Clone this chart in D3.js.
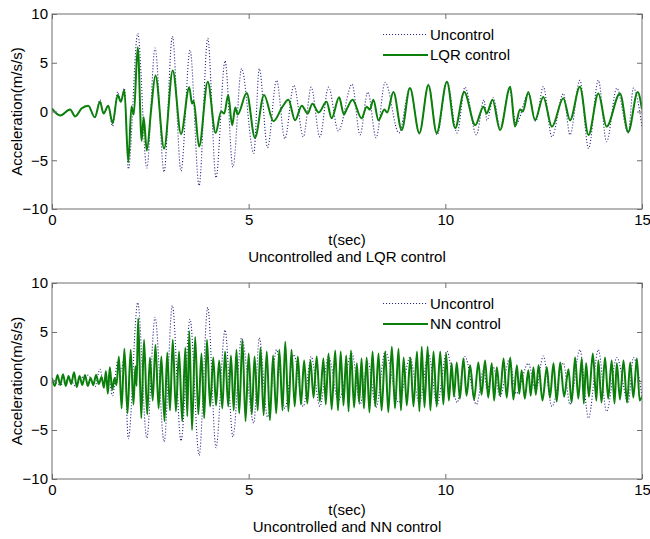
<!DOCTYPE html>
<html>
<head>
  <meta charset="UTF-8">
  <title>Acceleration response</title>
  <script src="https://d3js.org/d3.v7.min.js"></script>
  <style>
    body {
      margin: 0;
      background: #fff;
      font-family: "Liberation Sans", Arial, sans-serif;
    }
    svg text {
      font-size: 15px;
      fill: #000;
    }
    .box {
      fill: none;
      stroke: #6e6e6e;
      stroke-width: 1;
    }
    .tick line {
      stroke: #6e6e6e;
    }
    .uncontrol {
      fill: none;
      stroke: #2b2b85;
      stroke-width: 1.1;
      stroke-dasharray: 1.1, 1.9;
    }
    .control {
      fill: none;
      stroke: #0a800a;
      stroke-width: 2;
      stroke-linejoin: round;
    }
  </style>
</head>
<body>
  <div id="chart"></div>
  <script>
    // peaks / troughs, [time (s), acceleration (m/s/s)]
    const uncontrol = [
      [0, 0.3], [0.21, -0.4], [0.46, 0.2], [0.59, -0.5], [0.75, 0.3], [0.92, 0.6], [1.09, -0.6],
      [1.22, 1.2], [1.31, -0.2], [1.43, 0.6], [1.54, -1.5], [1.67, 2.0], [1.75, 1.0], [1.84, 2.4],
      [1.94, -5.9], [2.18, 8.0], [2.41, -5.8], [2.62, 6.5], [2.85, -6.2], [3.06, 7.7], [3.28, -6.1],
      [3.51, 6.3], [3.74, -7.6], [3.96, 7.5], [4.17, -6.8], [4.40, 5.2], [4.60, -5.7], [4.82, 4.4],
      [5.13, -4.3], [5.27, 4.4], [5.48, -3.7], [5.71, 3.2], [5.92, -2.8], [6.15, 2.7], [6.39, -2.6],
      [6.59, 2.5], [6.81, -2.6], [7.03, 2.5], [7.28, -2.0], [7.63, 2.8], [7.83, -2.4], [8.03, 2.0],
      [8.24, -2.7], [8.47, 3.0], [8.82, -2.2], [9.10, 2.4], [9.34, -2.3], [9.57, 2.8], [9.79, -2.4],
      [10.04, 3.05], [10.30, -2.2], [10.50, 2.5], [10.79, -2.4], [10.98, 1.2], [11.06, -0.9],
      [11.22, 1.4], [11.39, -1.6], [11.63, 2.2], [11.80, -1.3], [12.11, 1.8], [12.30, -1.0],
      [12.49, 2.55], [12.71, -2.6], [13.00, 1.85], [13.17, -2.4], [13.42, 3.2], [13.64, -3.8],
      [13.89, 3.2], [14.10, -3.1], [14.36, 2.4], [14.65, -2.2], [14.78, 2.4], [15.00, -1.55]
    ];

    const lqrControl = [
      [0, 0.3], [0.21, -0.4], [0.46, 0.2], [0.59, -0.5], [0.75, 0.3], [0.92, 0.6], [1.09, -0.6],
      [1.22, 1.0], [1.31, -0.2], [1.43, 0.6], [1.54, -1.2], [1.67, 1.7], [1.75, 1.0], [1.84, 2.2],
      [1.94, -5.2], [2.02, 0.5], [2.08, -0.3], [2.18, 6.6], [2.28, -3.0], [2.33, -0.6], [2.41, -4.0],
      [2.52, 0.2], [2.63, 3.7], [2.85, -3.8], [3.07, 4.2], [3.28, -2.3], [3.49, 2.5], [3.56, 0.8],
      [3.60, 1.1], [3.74, -3.6], [3.96, 3.05], [4.16, -2.2], [4.30, 0.0], [4.38, -0.2], [4.48, 1.7],
      [4.58, -1.4], [4.66, 0.4], [4.72, -0.3], [4.95, 1.9], [5.16, -2.7], [5.39, 1.7], [5.63, -1.0],
      [5.86, 0.5], [6.01, 1.2], [6.18, -0.9], [6.35, 0.6], [6.50, -0.2], [6.62, 0.8], [6.78, -0.1],
      [6.98, 1.0], [7.11, -0.7], [7.30, 1.45], [7.42, -0.3], [7.50, 0.3], [7.64, 1.2], [7.87, -0.7],
      [8.00, 0.5], [8.08, 0.2], [8.17, 1.2], [8.30, -0.9], [8.45, 0.2], [8.52, -0.1], [8.68, 2.0],
      [8.89, -1.9], [9.10, 2.4], [9.34, -2.2], [9.57, 2.7], [9.78, -2.2], [10.04, 3.05], [10.25, -1.7],
      [10.48, 2.0], [10.76, -1.4], [10.97, 0.5], [11.05, -0.2], [11.20, 1.2], [11.39, -1.9],
      [11.65, 2.55], [11.77, -1.55], [11.90, 0.2], [11.97, 0.0], [12.11, 2.0], [12.28, -0.9],
      [12.49, 1.5], [12.71, -1.55], [13.00, 1.35], [13.17, -0.9], [13.42, 2.55], [13.64, -2.4],
      [13.89, 1.85], [14.10, -1.55], [14.44, 1.85], [14.65, -2.1], [14.89, 2.0], [15.00, 0.2]
    ];

    const nnControl = [
      [0, 0.3], [0.07, -0.5], [0.14, 0.6], [0.21, -0.4], [0.28, 0.7], [0.35, -0.5], [0.42, 0.5],
      [0.49, -0.3], [0.56, 0.9], [0.63, -0.6], [0.70, 0.5], [0.77, -0.4], [0.84, 0.6], [0.91, -0.5],
      [0.98, 0.3], [1.05, -0.4], [1.12, 0.6], [1.19, -0.3], [1.26, 0.4], [1.32, -0.7], [1.37, 1.0],
      [1.42, -1.3], [1.47, 1.4], [1.53, -0.9], [1.59, 0.3], [1.64, -0.4], [1.70, 2.5], [1.77, -2.8],
      [1.84, 3.3], [1.92, -3.3], [2.00, 3.2], [2.07, -2.4], [2.12, 1.5], [2.15, -0.5], [2.19, 6.4],
      [2.27, -3.8], [2.34, 4.2], [2.42, -3.4], [2.49, 2.4], [2.56, -2.0], [2.63, 3.7], [2.71, -2.8],
      [2.78, 2.5], [2.86, -4.1], [2.93, 2.9], [3.00, -3.0], [3.07, 4.2], [3.15, -3.1], [3.23, 3.0],
      [3.31, -4.1], [3.39, 3.4], [3.44, -3.6], [3.49, 5.1], [3.56, -5.0], [3.64, 4.5], [3.72, -3.4],
      [3.80, 2.8], [3.87, -3.8], [3.94, 4.2], [4.02, -2.6], [4.10, 2.4], [4.17, -2.5], [4.25, 2.1],
      [4.33, -2.8], [4.40, 3.0], [4.48, -2.6], [4.55, 2.6], [4.62, -3.0], [4.69, 3.2], [4.76, -3.3],
      [4.84, 4.2], [4.92, -4.1], [5.00, 2.8], [5.08, -3.4], [5.15, 2.5], [5.23, -3.0], [5.30, 3.4],
      [5.38, -3.5], [5.46, 3.0], [5.54, -4.0], [5.62, 2.6], [5.70, -3.3], [5.78, 3.2], [5.86, -3.0],
      [5.93, 4.0], [6.01, -3.1], [6.09, 3.2], [6.17, -2.6], [6.25, 2.5], [6.33, -2.4], [6.41, 2.1],
      [6.49, -2.3], [6.57, 2.1], [6.65, -1.7], [6.73, 2.5], [6.81, -2.1], [6.90, 2.3], [6.96, -2.4],
      [7.03, 2.8], [7.11, -2.9], [7.20, 3.1], [7.27, -3.0], [7.34, 3.0], [7.41, -2.5], [7.48, 2.6],
      [7.54, -3.1], [7.60, 3.1], [7.68, -2.7], [7.75, 1.8], [7.81, -2.2], [7.87, 2.3], [7.93, -2.8],
      [8.00, 2.4], [8.07, -3.2], [8.15, 3.0], [8.22, -2.6], [8.30, 2.8], [8.38, -3.0], [8.47, 3.0],
      [8.55, -3.2], [8.64, 3.5], [8.72, -2.8], [8.81, 3.3], [8.87, -3.0], [8.94, 2.4], [9.02, -2.5],
      [9.11, 2.4], [9.19, -2.6], [9.28, 3.0], [9.34, -3.1], [9.40, 3.5], [9.47, -2.7], [9.55, 3.5],
      [9.62, -3.0], [9.70, 3.0], [9.78, -2.6], [9.87, 3.0], [9.95, -2.4], [10.02, 2.8], [10.09, -2.0],
      [10.16, 1.8], [10.22, -1.6], [10.29, 1.9], [10.37, -1.8], [10.46, 2.3], [10.54, -1.5],
      [10.63, 1.6], [10.73, -1.9], [10.84, 1.9], [10.92, -1.4], [11.01, 2.1], [11.09, -1.7],
      [11.18, 1.8], [11.24, -2.0], [11.31, 1.4], [11.39, -1.5], [11.48, 2.3], [11.56, -1.7],
      [11.65, 2.4], [11.73, -1.9], [11.82, 1.6], [11.88, -1.3], [11.94, 1.1], [12.02, -1.8],
      [12.11, 1.1], [12.17, -1.5], [12.24, 1.4], [12.30, -1.4], [12.37, 1.6], [12.47, -2.0],
      [12.58, 1.4], [12.66, -1.7], [12.75, 1.8], [12.83, -2.1], [12.92, 1.9], [13.02, -1.6],
      [13.13, 1.2], [13.21, -2.2], [13.30, 2.4], [13.38, -1.8], [13.47, 2.3], [13.52, -2.3],
      [13.58, 1.8], [13.65, -1.6], [13.75, 2.8], [13.84, -2.0], [13.89, 2.1], [13.97, -2.2],
      [14.06, 2.4], [14.14, -1.8], [14.23, 2.1], [14.30, -2.3], [14.36, 1.8], [14.44, -1.9],
      [14.53, 2.1], [14.62, -2.2], [14.70, 1.9], [14.78, -1.7], [14.87, 2.3], [14.94, -2.0],
      [15.00, -1.6]
    ];

    const xTicks = [0, 5, 10, 15];
    const yTicks = [-10, -5, 0, 5, 10];

    const panels = [
      { top: 14, height: 195, control: lqrControl, name: "LQR control", caption: "Uncontrolled and LQR control" },
      { top: 283, height: 196, control: nnControl, name: "NN control", caption: "Uncontrolled and NN control" }
    ];

    const svgWidth = 650, svgHeight = 539;
    const left = 52, plotWidth = 590;

    const svg = d3.select("#chart")
      .append("svg")
      .attr("width", svgWidth)
      .attr("height", svgHeight);

    const xScale = d3.scaleLinear().domain([0, 15]).range([0, plotWidth]);

    const drawPanel = (p, idx) => {
      const h = p.height;
      const yScale = d3.scaleLinear().domain([-10, 10]).range([h, 0]);

      const g = svg.append("g")
        .attr("transform", `translate(${left}, ${p.top})`);

      g.append("defs").append("clipPath")
        .attr("id", `clip-${idx}`)
        .append("rect")
        .attr("width", plotWidth)
        .attr("height", h);

      const line = d3.line()
        .x(d => xScale(d[0]))
        .y(d => yScale(d[1]))
        .curve(d3.curveMonotoneX);

      const plot = g.append("g").attr("clip-path", `url(#clip-${idx})`);

      plot.append("path")
        .datum(uncontrol)
        .attr("class", "uncontrol")
        .attr("d", line);

      plot.append("path")
        .datum(p.control)
        .attr("class", "control")
        .attr("d", line);

      // inward ticks on all four sides, MATLAB style
      const bottomAxis = d3.axisBottom(xScale).tickValues(xTicks)
        .tickSizeInner(-5).tickSizeOuter(0).tickPadding(5);
      const topAxis = d3.axisTop(xScale).tickValues(xTicks)
        .tickSizeInner(-5).tickSizeOuter(0).tickFormat("");
      const leftAxis = d3.axisLeft(yScale).tickValues(yTicks)
        .tickSizeInner(-5).tickSizeOuter(0).tickPadding(4);
      const rightAxis = d3.axisRight(yScale).tickValues(yTicks)
        .tickSizeInner(-5).tickSizeOuter(0).tickFormat("");

      g.append("g").attr("transform", `translate(0, ${h})`).call(bottomAxis);
      g.append("g").call(topAxis);
      g.append("g").call(leftAxis);
      g.append("g").attr("transform", `translate(${plotWidth}, 0)`).call(rightAxis);

      g.selectAll(".domain").remove();
      g.selectAll(".tick text")
        .attr("font-family", "Liberation Sans, Arial, sans-serif")
        .attr("font-size", 15)
        .attr("fill", "#000");

      g.append("rect")
        .attr("class", "box")
        .attr("width", plotWidth)
        .attr("height", h);

      // legend, no frame
      const legend = g.append("g").attr("transform", `translate(331, 0)`);
      const rows = [
        { cls: "uncontrol", label: "Uncontrol", y: 20.5 },
        { cls: "control", label: p.name, y: 41 }
      ];
      rows.forEach(r => {
        legend.append("line")
          .attr("class", r.cls)
          .attr("x1", 0).attr("x2", 45)
          .attr("y1", r.y).attr("y2", r.y);
        legend.append("text")
          .attr("x", 47)
          .attr("y", r.y)
          .attr("dy", "0.35em")
          .text(r.label);
      });

      g.append("text")
        .attr("x", plotWidth / 2)
        .attr("y", h + 36)
        .attr("text-anchor", "middle")
        .text("t(sec)");

      g.append("text")
        .attr("x", plotWidth / 2)
        .attr("y", h + 53)
        .attr("text-anchor", "middle")
        .text(p.caption);

      g.append("text")
        .attr("transform", `translate(${22 - left}, ${h / 2}) rotate(-90)`)
        .attr("text-anchor", "middle")
        .text("Acceleration(m/s/s)");
    };

    panels.forEach(drawPanel);
  </script>
</body>
</html>
